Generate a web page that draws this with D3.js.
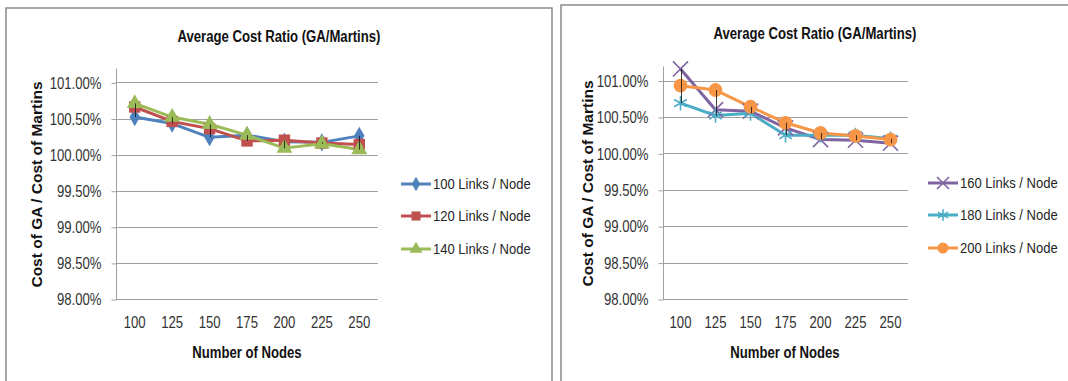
<!DOCTYPE html>
<html>
<head>
<meta charset="utf-8">
<script src="https://cdn.jsdelivr.net/npm/d3@7"></script>
<style>
  html, body { margin: 0; padding: 0; background: #fff; }
  svg { display: block; }
  text { font-family: "Liberation Sans", Arial, sans-serif; fill: #262626; }
</style>
</head>
<body>
<svg id="chart" width="1068" height="381"></svg>
<script>
// Number of nodes on the x axis
const nodes = [100, 125, 150, 175, 200, 225, 250];
const yTicks = [98.0, 98.5, 99.0, 99.5, 100.0, 100.5, 101.0];
const yMax = 101.2;

// Average cost ratio (GA / Martins), in percent
const links100 = [100.52, 100.43, 100.24, 100.27, 100.18, 100.17, 100.26];
const links120 = [100.66, 100.46, 100.36, 100.19, 100.20, 100.16, 100.14];
const links140 = [100.71, 100.52, 100.42, 100.27, 100.09, 100.15, 100.07];
const links160 = [101.16, 100.60, 100.58, 100.35, 100.19, 100.18, 100.14];
const links180 = [100.69, 100.52, 100.55, 100.25, 100.25, 100.25, 100.20];
const links200 = [100.93, 100.87, 100.64, 100.42, 100.28, 100.24, 100.19];

const titleText = "Average Cost Ratio (GA/Martins)";
const xTitle = "Number of Nodes";
const yTitle = "Cost of GA  / Cost of Martins";

const svg = d3.select("#chart");

const panels = [
  {
    frame: { x: 6, y: 8, w: 546, h: 400 },
    plot: { left: 116, right: 378, top: 68, bottom: 299 },
    titleX: 279, titleY: 36, yTitleX: 36, xTitleX: 247,
    legendLineX: 401, legendY: [184, 216, 249],
    series: [
      { name: "100 Links / Node", values: links100, color: "#4F81BD", marker: "diamond" },
      { name: "120 Links / Node", values: links120, color: "#C0504D", marker: "square" },
      { name: "140 Links / Node", values: links140, color: "#9BBB59", marker: "triangle" }
    ]
  },
  {
    frame: { x: 561, y: 5, w: 520, h: 400 },
    plot: { left: 663, right: 908, top: 66, bottom: 299 },
    titleX: 815, titleY: 33, yTitleX: 587, xTitleX: 785,
    legendLineX: 928, legendY: [183, 215, 248],
    series: [
      { name: "160 Links / Node", values: links160, color: "#8064A2", marker: "x" },
      { name: "180 Links / Node", values: links180, color: "#4BACC6", marker: "star" },
      { name: "200 Links / Node", values: links200, color: "#F79646", marker: "circle" }
    ]
  }
];

function drawMarker(g, kind, color, cx, cy, scale) {
  const s = scale;
  const t = `translate(${cx},${cy})`;
  if (kind === "diamond") {
    g.append("path").attr("d", d3.symbol(d3.symbolDiamond, 95 * s * s)()).attr("transform", t).attr("fill", color);
  } else if (kind === "square") {
    g.append("path").attr("d", d3.symbol(d3.symbolSquare, 130 * s * s)()).attr("transform", t).attr("fill", color);
  } else if (kind === "triangle") {
    g.append("path").attr("d", d3.symbol(d3.symbolTriangle, 110 * s * s)()).attr("transform", t).attr("fill", color);
  } else if (kind === "circle") {
    g.append("path").attr("d", d3.symbol(d3.symbolCircle, 150 * s * s)()).attr("transform", t).attr("fill", color);
  } else if (kind === "x") {
    g.append("path").attr("d", d3.symbol(d3.symbolX, 150 * s * s)()).attr("transform", t)
      .attr("fill", "none").attr("stroke", color).attr("stroke-width", 1.6);
  } else if (kind === "star") {
    g.append("path").attr("d", d3.symbol(d3.symbolAsterisk, 150 * s * s)()).attr("transform", t)
      .attr("fill", "none").attr("stroke", color).attr("stroke-width", 1.6);
  }
}

panels.forEach(p => {
  const g = svg.append("g");

  // chart frame
  g.append("rect")
    .attr("x", p.frame.x).attr("y", p.frame.y)
    .attr("width", p.frame.w).attr("height", p.frame.h)
    .attr("fill", "#fff").attr("stroke", "#8a8a8a").attr("stroke-width", 1.5);

  const x = d3.scaleBand().domain(nodes).range([p.plot.left, p.plot.right]);
  const y = d3.scaleLinear().domain([yTicks[0], yMax]).range([p.plot.bottom, p.plot.top]);
  const cx = d => x(d) + x.bandwidth() / 2;

  // horizontal gridlines
  g.append("g").selectAll("line").data(yTicks.slice(1)).join("line")
    .attr("x1", p.plot.left).attr("x2", p.plot.right)
    .attr("y1", d => Math.round(y(d)) + 0.5).attr("y2", d => Math.round(y(d)) + 0.5)
    .attr("stroke", "#a0a0a0").attr("stroke-width", 1);

  // y axis
  const yAxis = d3.axisLeft(y).tickValues(yTicks)
    .tickFormat(d => d3.format(".2f")(d) + "%").tickSize(5).tickPadding(10);
  const ya = g.append("g").attr("transform", `translate(${p.plot.left + 0.5},0.5)`).call(yAxis);
  ya.select(".domain").attr("stroke", "#a0a0a0").attr("d", `M0,${y(yMax)}V${y(yTicks[0])}`);
  ya.selectAll(".tick line").attr("stroke", "#a0a0a0");
  ya.selectAll(".tick text").attr("font-size", 16).attr("class", "narrow")
    .style("font-family", '"Liberation Sans", Arial, sans-serif').style("fill", "#333");

  // x axis
  const xAxis = d3.axisBottom(x).tickSize(0).tickPadding(17);
  const xa = g.append("g").attr("transform", `translate(0,${Math.round(p.plot.bottom) + 0.5})`).call(xAxis);
  xa.select(".domain").attr("stroke", "#a0a0a0").attr("d", `M${p.plot.left},0H${p.plot.right}`);
  xa.selectAll(".tick text").attr("font-size", 16).attr("class", "narrow")
    .style("font-family", '"Liberation Sans", Arial, sans-serif').style("fill", "#333");

  // titles
  g.append("text").attr("class", "narrow").attr("x", p.titleX).attr("y", p.titleY)
    .attr("text-anchor", "middle").attr("dominant-baseline", "central")
    .attr("font-size", 16).attr("font-weight", "bold").style("fill", "#111")
    .text(titleText);
  g.append("text").attr("class", "narrow").attr("x", p.xTitleX).attr("y", 352)
    .attr("text-anchor", "middle").attr("dominant-baseline", "central")
    .attr("font-size", 16).attr("font-weight", "bold").style("fill", "#111")
    .text(xTitle);
  g.append("text")
    .attr("transform", `translate(${p.yTitleX},${(p.plot.top + p.plot.bottom) / 2 + 1}) rotate(-90)`)
    .attr("text-anchor", "middle").attr("dominant-baseline", "central")
    .attr("font-size", 15.5).attr("font-weight", "bold").style("fill", "#111")
    .text(yTitle);

  // series lines
  const line = d3.line().x((v, i) => cx(nodes[i])).y(v => y(v));
  p.series.forEach(s => {
    g.append("path").datum(s.values).attr("d", line)
      .attr("fill", "none").attr("stroke", s.color).attr("stroke-width", 3)
      .attr("stroke-linejoin", "round");
  });

  // markers
  const mg = g.append("g");
  p.series.forEach(s => {
    s.values.forEach((v, i) => drawMarker(mg, s.marker, s.color, cx(nodes[i]), y(v), 1));
  });

  // high-low lines between series at each node count
  g.append("g").selectAll("line").data(nodes).join("line")
    .attr("x1", d => Math.round(cx(d)) + 0.5).attr("x2", d => Math.round(cx(d)) + 0.5)
    .attr("y1", (d, i) => y(d3.max(p.series, s => s.values[i])))
    .attr("y2", (d, i) => y(d3.min(p.series, s => s.values[i])))
    .attr("stroke", "#111").attr("stroke-width", 1).attr("opacity", 0.8);

  // legend
  p.series.forEach((s, k) => {
    const ly = p.legendY[k];
    g.append("line").attr("x1", p.legendLineX).attr("x2", p.legendLineX + 30)
      .attr("y1", ly).attr("y2", ly).attr("stroke", s.color).attr("stroke-width", 3);
    drawMarker(g, s.marker, s.color, p.legendLineX + 15, ly, 0.8);
    g.append("text").attr("class", "legend").attr("x", p.legendLineX + 32).attr("y", ly)
      .attr("dominant-baseline", "central").attr("font-size", 14).style("fill", "#262626")
      .text(s.name);
  });
});

// condensed lettering: squeeze the labels horizontally
svg.selectAll("text.narrow").each(function () {
  const len = this.getComputedTextLength();
  d3.select(this).attr("textLength", len * 0.82).attr("lengthAdjust", "spacingAndGlyphs");
});
svg.selectAll("text.legend").each(function () {
  const len = this.getComputedTextLength();
  d3.select(this).attr("textLength", len * 0.93).attr("lengthAdjust", "spacingAndGlyphs");
});
</script>
</body>
</html>
